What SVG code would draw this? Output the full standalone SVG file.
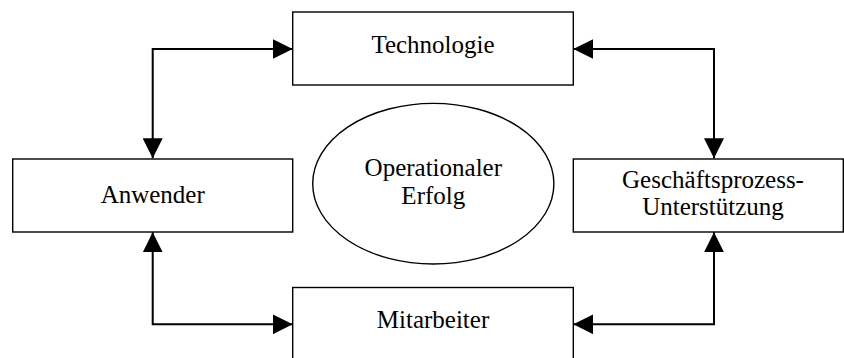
<svg xmlns="http://www.w3.org/2000/svg" width="844" height="358" viewBox="0 0 844 358">
  <style>
    .box { fill: #ffffff; stroke: #000000; stroke-width: 1.4; }
    .oval { fill: #ffffff; stroke: #000000; stroke-width: 1.4; }
    .lbl { font-family: "Liberation Serif", "Times New Roman", serif; font-size: 25px; fill: #000000; text-anchor: middle; }
    .link { fill: none; stroke: #000000; stroke-width: 2; marker-start: url(#tip); marker-end: url(#tip); }
  </style>
  <defs>
    <marker id="tip" markerUnits="userSpaceOnUse" markerWidth="20" markerHeight="20" refX="20" refY="10" orient="auto-start-reverse" viewBox="0 0 20 20">
      <path d="M0,0 L20,10 L0,20 Z" fill="#000000"/>
    </marker>
  </defs>
  <rect width="844" height="358" fill="#ffffff"/>

  <!-- connectors: each link is two-headed -->
  <g id="connectors">
    <path class="link" d="M152.7,158.3 V49 H292.7"/>
    <path class="link" d="M573.3,49 H714 V158.3"/>
    <path class="link" d="M152.7,232.3 V324.3 H292.7"/>
    <path class="link" d="M573.3,324.3 H714 V232.3"/>
  </g>

  <g id="technologie">
    <rect class="box" x="292.7" y="12" width="280.6" height="73"/>
    <text class="lbl" x="433" y="53">Technologie</text>
  </g>

  <g id="anwender">
    <rect class="box" x="12.7" y="159" width="280" height="73"/>
    <text class="lbl" x="152.7" y="203">Anwender</text>
  </g>

  <g id="erfolg">
    <ellipse class="oval" cx="433.3" cy="183.7" rx="120.6" ry="80.3"/>
    <text class="lbl" x="433.3" y="175.5">Operationaler</text>
    <text class="lbl" x="433.3" y="204.3">Erfolg</text>
  </g>

  <g id="geschaeftsprozess">
    <rect class="box" x="573.3" y="159" width="270" height="73"/>
    <text class="lbl" x="713" y="188">Geschäftsprozess-</text>
    <text class="lbl" x="713" y="215">Unterstützung</text>
  </g>

  <g id="mitarbeiter">
    <rect class="box" x="292.7" y="287.5" width="280.6" height="80"/>
    <text class="lbl" x="433" y="327.7">Mitarbeiter</text>
  </g>
</svg>
